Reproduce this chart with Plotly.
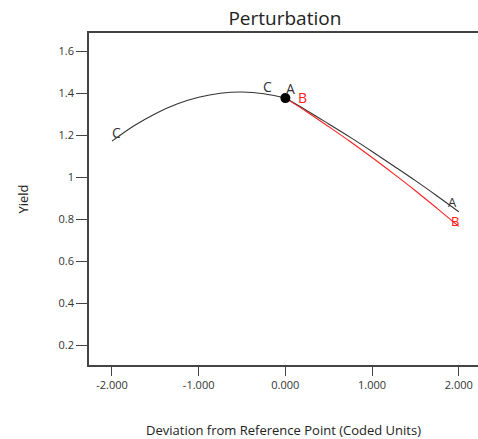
import plotly.graph_objects as go

# Data
c_x = [-2.0, -1.75, -1.5, -1.25, -1.0, -0.75, -0.5, -0.25, 0.0]
c_y = [1.171, 1.243, 1.302, 1.348, 1.380, 1.399, 1.405, 1.397, 1.376]

ab_x = [0.0, 0.25, 0.5, 0.75, 1.0, 1.25, 1.5, 1.75, 2.0]
a_y = [1.376, 1.316, 1.253, 1.189, 1.122, 1.053, 0.983, 0.910, 0.835]
b_y = [1.376, 1.310, 1.240, 1.168, 1.093, 1.015, 0.935, 0.851, 0.765]

ref_x = [0.0]
ref_y = [1.376]

x_ticks = [-2, -1, 0, 1, 2]
x_ticktext = ["-2.000", "-1.000", "0.000", "1.000", "2.000"]
y_ticks = [0.2, 0.4, 0.6, 0.8, 1.0, 1.2, 1.4, 1.6]
y_ticktext = ["0.2", "0.4", "0.6", "0.8", "1", "1.2", "1.4", "1.6"]

FONT = "Open Sans"
DARK = "#333333"
RED = "#ff2020"

fig = go.Figure()
fig.add_trace(go.Scatter(x=c_x, y=c_y, mode="lines", line=dict(color=DARK, width=1.1, shape="spline"), showlegend=False))
fig.add_trace(go.Scatter(x=ab_x, y=a_y, mode="lines", line=dict(color=DARK, width=1.1, shape="spline"), showlegend=False))
fig.add_trace(go.Scatter(x=ab_x, y=b_y, mode="lines", line=dict(color=RED, width=1.1, shape="spline"), showlegend=False))
fig.add_trace(go.Scatter(x=ref_x, y=ref_y, mode="markers", marker=dict(color="black", size=10), showlegend=False))

def label(txt, x, y, dx, dy, color, size=14):
    fig.add_annotation(x=x, y=y, text=txt, showarrow=False, xshift=dx, yshift=dy,
                       xanchor="center", yanchor="middle",
                       font=dict(family=FONT, size=size, color=color))

label("C", c_x[0], c_y[0], 5, 9, DARK)
label("C", c_x[-1], c_y[-1], -18, 12, DARK)
label("A", ab_x[0], a_y[0], 5, 10, DARK)
label("B", ab_x[0], b_y[0], 17, 1, RED)
label("A", ab_x[-1], a_y[-1], -6, 10, DARK, 13)
label("B", ab_x[-1], b_y[-1], -4, 5, RED, 13)

fig.update_layout(
    width=478, height=439,
    margin=dict(l=89, r=0, t=33, b=74),
    paper_bgcolor="white", plot_bgcolor="white",
    font=dict(family=FONT, color=DARK),
    title=dict(text="Perturbation", x=0.596, xanchor="center", y=0.958, yanchor="middle",
               font=dict(family=FONT, size=19, color="#222222")),
    xaxis=dict(range=[-2.265, 2.222], tickvals=x_ticks, ticktext=x_ticktext,
               showgrid=False, zeroline=False, showline=True, linecolor="#444444", linewidth=1.5,
               mirror=True, ticks="outside", ticklen=9, tickcolor="#444444", tickwidth=1,
               tickfont=dict(family=FONT, size=11, color=DARK),
               title=dict(text="Deviation from Reference Point (Coded Units)", standoff=35,
                          font=dict(family=FONT, size=13, color="#222222"))),
    yaxis=dict(range=[0.105, 1.686], tickvals=y_ticks, ticktext=y_ticktext,
               showgrid=False, zeroline=False, showline=True, linecolor="#444444", linewidth=1.5,
               mirror=False, ticks="outside", ticklen=11, tickcolor="#444444", tickwidth=1,
               tickfont=dict(family=FONT, size=11, color=DARK),
               title=dict(text="Yield", standoff=27,
                          font=dict(family=FONT, size=13, color="#222222"))),
)

fig.write_html("out.html")
